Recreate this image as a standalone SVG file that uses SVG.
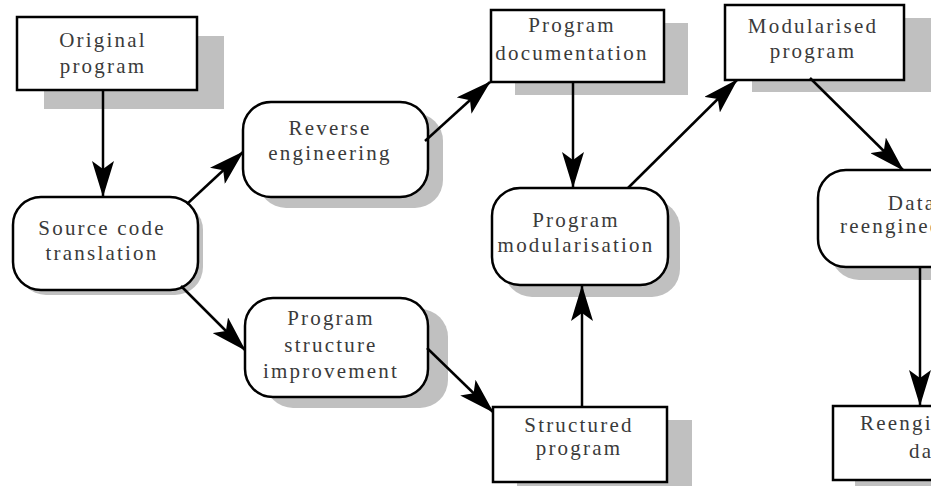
<svg xmlns="http://www.w3.org/2000/svg" width="931" height="486" viewBox="0 0 931 486">
<defs>
<style>
.box{fill:#fff;stroke:#000;stroke-width:2.5}
.sh{fill:#c0c0c0;stroke:none}
.t{font-family:"Liberation Serif","Times New Roman",serif;font-size:21px;letter-spacing:2.2px;fill:#3a3a3a;text-anchor:middle}
.c{stroke:#000;stroke-width:2.5;fill:none;marker-end:url(#ah)}
</style>
<marker id="ah" viewBox="0 0 36 22" refX="35" refY="11" markerWidth="36" markerHeight="22" markerUnits="userSpaceOnUse" orient="auto">
<path d="M0,0 L36,11 L0,22 L8,11 z" fill="#000"/>
</marker>
</defs>
<rect width="931" height="486" fill="#fff"/>
<g id="original">
<rect class="sh" x="44" y="36" width="180" height="73"/>
<rect class="box" x="17" y="17" width="180" height="73"/>
<text class="t" x="103" y="47">Original</text>
<text class="t" x="103" y="73">program</text>
</g>
<g id="source">
<rect class="sh" x="18" y="202" width="185" height="93" rx="28"/>
<rect class="box" x="13" y="197" width="185" height="93" rx="28"/>
<text class="t" x="102" y="235">Source code</text>
<text class="t" x="102" y="260">translation</text>
</g>
<g id="reverse">
<rect class="sh" x="258" y="113" width="185" height="95" rx="28"/>
<rect class="box" x="243" y="102" width="185" height="95" rx="28"/>
<text class="t" x="330" y="135">Reverse</text>
<text class="t" x="330" y="160">engineering</text>
</g>
<g id="structure">
<rect class="sh" x="265" y="309" width="183" height="99" rx="28"/>
<rect class="box" x="245" y="298" width="183" height="99" rx="28"/>
<text class="t" x="331" y="325">Program</text>
<text class="t" x="331" y="352">structure</text>
<text class="t" x="331" y="378">improvement</text>
</g>
<g id="documentation">
<rect class="sh" x="515" y="23" width="173" height="72"/>
<rect class="box" x="491" y="10" width="173" height="72"/>
<text class="t" x="572" y="32">Program</text>
<text class="t" x="572" y="60">documentation</text>
</g>
<g id="modularisation">
<rect class="sh" x="504" y="200" width="176" height="97" rx="28"/>
<rect class="box" x="492" y="188" width="176" height="97" rx="28"/>
<text class="t" x="576" y="227">Program</text>
<text class="t" x="576" y="252">modularisation</text>
</g>
<g id="modularised">
<rect class="sh" x="752" y="18" width="179" height="74"/>
<rect class="box" x="725" y="5" width="179" height="75"/>
<text class="t" x="813" y="33">Modularised</text>
<text class="t" x="813" y="58">program</text>
</g>
<g id="data">
<rect class="sh" x="831" y="183" width="185" height="97" rx="28"/>
<rect class="box" x="818" y="170" width="185" height="97" rx="28"/>
<text class="t" x="912" y="210">Data</text>
<text class="t" x="912" y="233">reengineering</text>
</g>
<g id="structured">
<rect class="sh" x="517" y="420" width="175" height="75"/>
<rect class="box" x="493" y="407" width="174" height="75"/>
<text class="t" x="579" y="432">Structured</text>
<text class="t" x="579" y="455">program</text>
</g>
<g id="reengineered">
<rect class="sh" x="855" y="419" width="180" height="75"/>
<rect class="box" x="833" y="406" width="180" height="74"/>
<text class="t" x="931" y="430">Reengineered</text>
<text class="t" x="931" y="458">data</text>
</g>
<g id="connectors">
<line class="c" x1="103" y1="90" x2="103" y2="196"/>
<line class="c" x1="187" y1="204" x2="243" y2="152"/>
<line class="c" x1="181" y1="286" x2="245" y2="350"/>
<line class="c" x1="425" y1="141" x2="490" y2="82"/>
<line class="c" x1="427" y1="348" x2="493" y2="412"/>
<line class="c" x1="573" y1="82" x2="573" y2="187"/>
<line class="c" x1="582" y1="407" x2="582" y2="286"/>
<line class="c" x1="628" y1="188" x2="737" y2="80"/>
<line class="c" x1="810" y1="78" x2="903" y2="170"/>
<line class="c" x1="920" y1="267" x2="920" y2="405"/>
</g>
</svg>
